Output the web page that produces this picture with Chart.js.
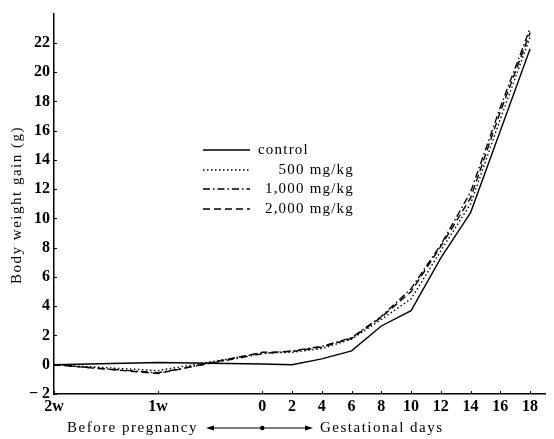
<!DOCTYPE html>
<html>
<head>
<meta charset="utf-8">
<script src="https://cdn.jsdelivr.net/npm/chart.js@4"></script>
<style>
  html, body { margin: 0; padding: 0; background: #fff; }
</style>
</head>
<body>
<canvas id="chart" width="554" height="439"></canvas>
<script>
// days relative to mating (negative = before pregnancy)
const days = [-14, -7, 0, 2, 4, 6, 8, 10, 12, 14, 16, 18];

const control  = [0, 0.15, 0.05, 0.0, 0.4, 0.95, 2.65, 3.7, 7.3, 10.4, 16.0, 21.6];
const dose500  = [0, -0.4, 0.8, 0.85, 1.1, 1.75, 3.1, 4.5, 7.8, 11.0, 16.8, 22.4];
const dose1000 = [0, -0.55, 0.75, 0.95, 1.25, 1.85, 3.3, 5.2, 8.2, 11.8, 17.6, 23.0];
const dose2000 = [0, -0.6, 0.85, 0.9, 1.2, 1.8, 3.25, 5.0, 8.1, 11.4, 17.3, 22.7];

const seriesNames = ['control', '500 mg/kg', '1,000 mg/kg', '2,000 mg/kg'];

const xTickValues = [-14, -7, 0, 2, 4, 6, 8, 10, 12, 14, 16, 18];
const xTickLabels = ['2w', '1w', '0', '2', '4', '6', '8', '10', '12', '14', '16', '18'];
const yTickValues = [-2, 0, 2, 4, 6, 8, 10, 12, 14, 16, 18, 20, 22];

const serif = '"Liberation Serif", "DejaVu Serif", serif';

function toPoints(vals) {
  return days.map((d, i) => ({ x: d, y: vals[i] }));
}

const dashes = [[], [1.5, 2.5], [7, 3, 1.5, 3], [7, 4]];
const allSeries = [control, dose500, dose1000, dose2000];

const datasets = allSeries.map((vals, i) => ({
  label: seriesNames[i],
  data: toPoints(vals),
  showLine: true,
  borderColor: '#000',
  borderWidth: 1.4,
  borderDash: dashes[i],
  pointRadius: 0,
  tension: 0,
  fill: false
}));

// inward tick marks, titles and the legend block
const decorations = {
  id: 'decorations',
  afterDraw(chart) {
    const ctx = chart.ctx;
    const xs = chart.scales.x, ys = chart.scales.y;
    ctx.save();
    ctx.strokeStyle = '#000';
    ctx.lineWidth = 1;
    xTickValues.forEach(v => {
      const px = Math.round(xs.getPixelForValue(v)) + 0.5;
      ctx.beginPath();
      ctx.moveTo(px, ys.bottom);
      ctx.lineTo(px, ys.bottom - 3);
      ctx.stroke();
    });
    yTickValues.forEach(v => {
      const py = Math.round(ys.getPixelForValue(v)) + 0.5;
      ctx.beginPath();
      ctx.moveTo(xs.left, py);
      ctx.lineTo(xs.left + 3, py);
      ctx.stroke();
    });

    // y title
    ctx.fillStyle = '#000';
    ctx.font = '15px ' + serif;
    ctx.letterSpacing = '1.5px';
    ctx.textAlign = 'center';
    ctx.textBaseline = 'middle';
    ctx.save();
    ctx.translate(17, 205);
    ctx.rotate(-Math.PI / 2);
    ctx.fillText('Body weight gain (g)', 0, 0);
    ctx.restore();

    // x title with arrows
    const ty = 428;
    const x0 = xs.getPixelForValue(0);
    ctx.textAlign = 'right';
    ctx.fillText('Before pregnancy', 198, ty);
    ctx.textAlign = 'left';
    ctx.fillText('Gestational days', 320, ty);
    ctx.lineWidth = 1.2;
    ctx.beginPath();
    ctx.moveTo(212, ty);
    ctx.lineTo(310, ty);
    ctx.stroke();
    ctx.beginPath();
    ctx.moveTo(206, ty); ctx.lineTo(214, ty - 2.5); ctx.lineTo(214, ty + 2.5); ctx.closePath();
    ctx.moveTo(313, ty); ctx.lineTo(305, ty - 2.5); ctx.lineTo(305, ty + 2.5); ctx.closePath();
    ctx.fill();
    ctx.beginPath();
    ctx.arc(x0, ty, 2.2, 0, Math.PI * 2);
    ctx.fill();

    // legend
    const rows = [150, 170, 189, 209];
    ctx.font = '15px ' + serif;
    ctx.letterSpacing = '1.2px';
    chart.data.datasets.forEach((ds, i) => {
      const y = rows[i];
      ctx.setLineDash(ds.borderDash);
      ctx.lineWidth = 1.4;
      ctx.beginPath();
      ctx.moveTo(203, y);
      ctx.lineTo(250, y);
      ctx.stroke();
      ctx.setLineDash([]);
      if (i === 0) {
        ctx.textAlign = 'left';
        ctx.fillText(ds.label, 258, y);
      } else {
        ctx.textAlign = 'right';
        ctx.fillText(ds.label, 354, y);
      }
    });
    ctx.restore();
  }
};

new Chart(document.getElementById('chart'), {
  type: 'scatter',
  data: { datasets: datasets },
  options: {
    responsive: false,
    animation: false,
    layout: { padding: { top: 8, right: 9, left: 0, bottom: 0 } },
    plugins: {
      legend: { display: false },
      tooltip: { enabled: false }
    },
    scales: {
      x: {
        type: 'linear',
        min: -14,
        max: 19,
        afterBuildTicks: axis => { axis.ticks = xTickValues.map(v => ({ value: v })); },
        afterFit: s => { s.height = 45; },
        ticks: {
          autoSkip: false,
          maxRotation: 0,
          padding: 3,
          color: '#000',
          font: { family: serif, size: 16, weight: 'bold' },
          callback: v => xTickLabels[xTickValues.indexOf(v)]
        },
        grid: { display: true, drawOnChartArea: false, drawTicks: false },
        border: { color: '#000', width: 1.5 }
      },
      y: {
        min: -2,
        max: 24,
        afterBuildTicks: axis => { axis.ticks = yTickValues.map(v => ({ value: v })); },
        afterFit: s => { s.width = 54; },
        ticks: {
          padding: 4,
          color: '#000',
          font: { family: serif, size: 16, weight: 'bold' },
          callback: v => (v < 0 ? '\u2212 ' + Math.abs(v) : String(v))
        },
        grid: { display: true, drawOnChartArea: false, drawTicks: false },
        border: { color: '#000', width: 1.5 }
      }
    }
  },
  plugins: [decorations]
});
</script>
</body>
</html>
